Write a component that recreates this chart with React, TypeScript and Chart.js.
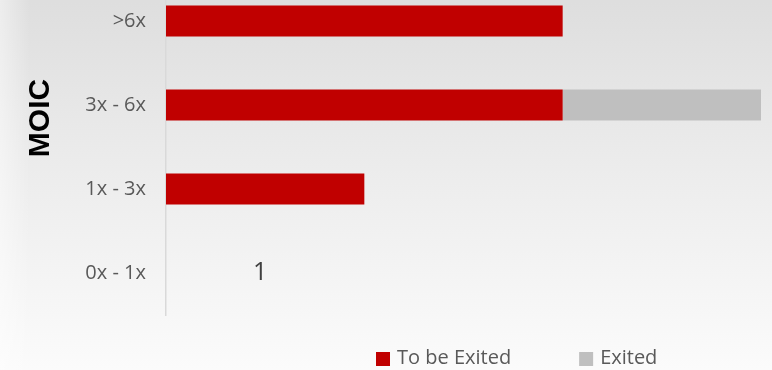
import React, { useEffect, useRef } from "react";
import { Chart, registerables } from "chart.js";

Chart.register(...registerables);

const categories = [">6x", "3x - 6x", "1x - 3x", "0x - 1x"];
const toBeExited = [2, 2, 1, 0];
const exited = [0, 1, 0, 0];
const noteLabels = ["", "", "", "1"];
const noteValue = 0.475;
const axisTitle = "MOIC";

const RED = "#C00000";
const GRAY = "#BFBFBF";

const bgPlugin = {
  id: "bg",
  beforeDraw(chart: any) {
    const { ctx, width, height } = chart;
    ctx.save();
    const g = ctx.createLinearGradient(0, 0, 0, height);
    g.addColorStop(0, "#dcdcdc");
    g.addColorStop(0.45, "#ebebeb");
    g.addColorStop(1, "#fbfbfb");
    ctx.fillStyle = g;
    ctx.fillRect(0, 0, width, height);
    const g2 = ctx.createLinearGradient(0, 0, 30, 0);
    g2.addColorStop(0, "rgba(255,255,255,0.45)");
    g2.addColorStop(1, "rgba(255,255,255,0)");
    ctx.fillStyle = g2;
    ctx.fillRect(0, 0, 30, height);
    ctx.restore();
  },
};

const extrasPlugin = {
  id: "extras",
  afterDraw(chart: any) {
    const { ctx, chartArea } = chart;
    const x = chart.scales.x;
    const y = chart.scales.y;
    ctx.save();
    // axis title
    ctx.translate(41, chartArea.top + 139);
    ctx.rotate(-Math.PI / 2);
    ctx.fillStyle = "#000";
    ctx.font = "bold 30px 'Liberation Sans', Arial, sans-serif";
    ctx.textAlign = "center";
    ctx.textBaseline = "middle";
    ctx.fillText(axisTitle, 0, 0);
    ctx.restore();

    // note labels
    ctx.save();
    ctx.fillStyle = "#404040";
    ctx.font = "25px 'Open Sans', sans-serif";
    ctx.textAlign = "center";
    ctx.textBaseline = "middle";
    noteLabels.forEach((t, i) => {
      if (!t) return;
      ctx.fillText(t, x.getPixelForValue(noteValue), y.getPixelForValue(i));
    });
    ctx.restore();

    // legend
    ctx.save();
    ctx.font = "20px 'Open Sans', sans-serif";
    ctx.textBaseline = "middle";
    ctx.textAlign = "left";
    const ly = chartArea.bottom + 43;
    let lx = 376;
    chart.data.datasets.forEach((ds: any) => {
      ctx.fillStyle = ds.backgroundColor;
      ctx.fillRect(lx, ly - 6, 14, 14);
      ctx.fillStyle = "#595959";
      ctx.fillText(ds.label, lx + 21, ly);
      lx += 21 + ctx.measureText(ds.label).width + 68;
    });
    ctx.restore();
  },
};

export default function App() {
  const ref = useRef<HTMLCanvasElement>(null);
  useEffect(() => {
    if (!ref.current) return;
    const chart = new Chart(ref.current, {
      type: "bar",
      data: {
        labels: categories,
        datasets: [
          { label: "To be Exited", data: toBeExited, backgroundColor: RED },
          { label: "Exited", data: exited, backgroundColor: GRAY },
        ],
      },
      options: {
        indexAxis: "y",
        animation: false,
        responsive: false,
        maintainAspectRatio: false,
        layout: { padding: { top: 0, bottom: 55, left: 0, right: 11 } },
        datasets: {
          bar: { categoryPercentage: 0.8, barPercentage: 0.4613 },
        },
        plugins: {
          legend: { display: false },
          tooltip: { enabled: false },
        },
        scales: {
          x: {
            stacked: true,
            min: 0,
            max: 3,
            display: false,
          },
          y: {
            stacked: true,
            grid: { display: false, drawTicks: false },
            border: { display: true, color: "#d9d9d9", width: 1.5 },
            ticks: {
              color: "#595959",
              font: { family: "'Open Sans', sans-serif", size: 20 },
              padding: 20,
            },
            afterFit(scale: any) {
              scale.width = 166;
              scale.paddingTop = 0;
              scale.paddingBottom = 0;
            },
          },
        },
      },
      plugins: [bgPlugin, extrasPlugin],
    });
    return () => chart.destroy();
  }, []);
  return (
    <div style={{ position: "fixed", left: 0, top: -21, width: 772, height: 391 }}>
      <canvas ref={ref} width={772} height={391} style={{ width: 772, height: 391, display: "block" }} />
    </div>
  );
}
